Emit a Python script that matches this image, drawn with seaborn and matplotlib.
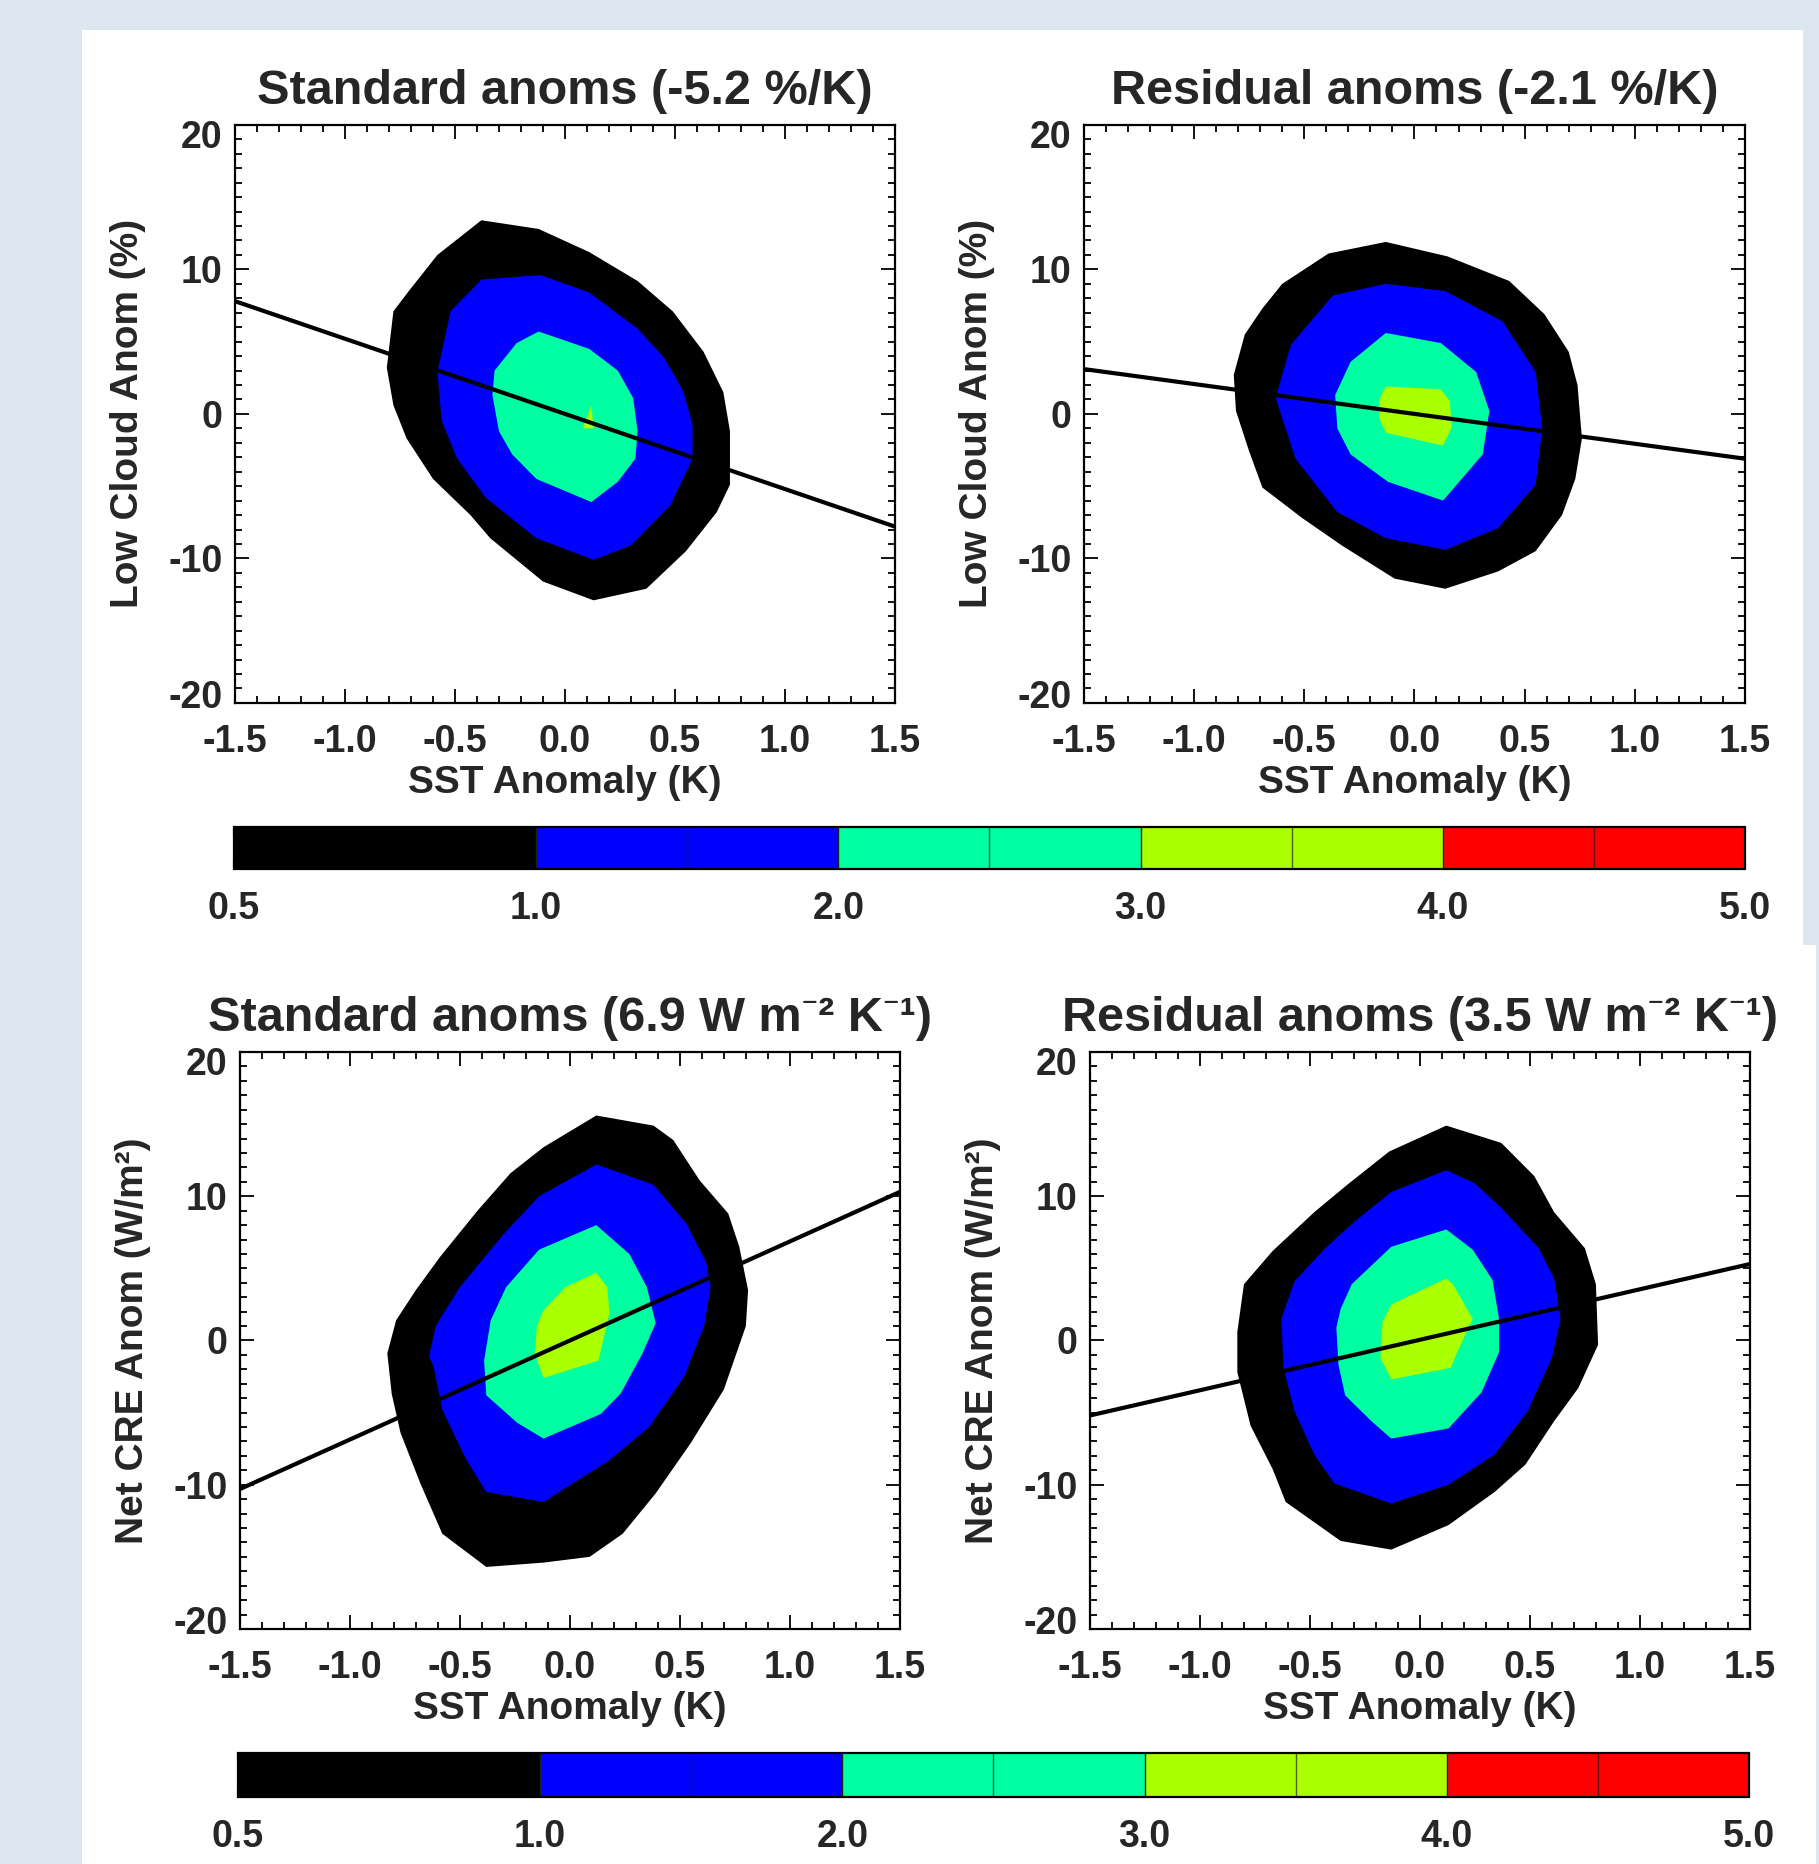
import matplotlib
matplotlib.use("Agg")
import matplotlib.pyplot as plt
import seaborn as sns
from matplotlib.colors import ListedColormap, BoundaryNorm
from matplotlib.cm import ScalarMappable
from matplotlib.patches import Rectangle
from matplotlib.ticker import MultipleLocator, FormatStrFormatter
from matplotlib.transforms import ScaledTranslation

# ---------------- data ----------------
levels = [0.5, 1.0, 2.0, 3.0, 4.0, 5.0]
level_colors = ["#000000", "#0000ff", "#00ffa0", "#aaff00", "#ff0000"]
cbar_tick_labels = ["0.5", "1.0", "2.0", "3.0", "4.0", "5.0"]
cbar_minor_ticks = [1.5, 2.5, 3.5, 4.5]

titles = ["Standard anoms (-5.2 %/K)",
          "Residual anoms (-2.1 %/K)",
          "Standard anoms (6.9 W m\u207b\u00b2 K\u207b\u00b9)",
          "Residual anoms (3.5 W m\u207b\u00b2 K\u207b\u00b9)"]
ylabels = ["Low Cloud Anom (%)", "Low Cloud Anom (%)",
           "Net CRE Anom (W/m\u00b2)", "Net CRE Anom (W/m\u00b2)"]
xlabel = "SST Anomaly (K)"

# regression lines (end points)
line_x = [-1.5, 1.5]
cld_std_line_y = [7.8, -7.8]
cld_res_line_y = [3.1, -3.1]
cre_std_line_y = [-10.3, 10.3]
cre_res_line_y = [-5.2, 5.3]

# contour outlines (SST anomaly K, anomaly) for levels 0.5, 1, 2, 3
cld_std_c05_x = [-0.38, -0.12, 0.11, 0.33, 0.49, 0.63, 0.72, 0.75, 0.75, 0.69, 0.55, 0.37, 0.13, -0.10, -0.34, -0.43, -0.60, -0.72, -0.78, -0.81, -0.78, -0.71, -0.58]
cld_std_c05_y = [13.4, 12.8, 11.2, 9.2, 7.1, 4.3, 1.5, -1.2, -4.9, -6.8, -9.5, -12.1, -12.9, -11.6, -8.6, -7.0, -4.5, -1.7, 0.6, 3.2, 7.1, 8.5, 11.0]
cld_std_c10_x = [-0.38, -0.11, 0.11, 0.33, 0.45, 0.54, 0.58, 0.58, 0.48, 0.30, 0.13, -0.13, -0.36, -0.49, -0.56, -0.58, -0.52]
cld_std_c10_y = [9.3, 9.6, 8.4, 5.9, 3.9, 1.5, -0.8, -3.1, -6.3, -9.1, -10.1, -8.6, -5.8, -3.1, -0.5, 2.9, 7.1]
cld_std_c20_x = [-0.12, 0.11, 0.24, 0.31, 0.33, 0.32, 0.24, 0.12, -0.13, -0.24, -0.30, -0.33, -0.32, -0.22]
cld_std_c20_y = [5.7, 4.5, 3.0, 1.1, -1.2, -3.1, -4.7, -6.1, -4.5, -2.8, -1.2, 1.3, 3.0, 4.9]
cld_std_c30_x = [0.12, 0.13, 0.08]
cld_std_c30_y = [0.6, -1.0, -1.0]

cld_res_c05_x = [-0.13, 0.15, 0.43, 0.59, 0.70, 0.74, 0.76, 0.73, 0.67, 0.55, 0.38, 0.14, -0.09, -0.33, -0.51, -0.69, -0.75, -0.81, -0.82, -0.77, -0.69, -0.60, -0.39]
cld_res_c05_y = [11.9, 10.9, 9.2, 6.9, 4.3, 2.0, -1.7, -4.5, -7.0, -9.5, -10.9, -12.1, -11.4, -9.1, -7.2, -5.1, -2.6, 0.2, 2.7, 5.5, 7.3, 9.0, 11.1]
cld_res_c10_x = [-0.13, 0.14, 0.40, 0.55, 0.58, 0.55, 0.38, 0.14, -0.13, -0.35, -0.54, -0.63, -0.56, -0.37]
cld_res_c10_y = [9.0, 8.5, 6.4, 2.9, -1.0, -4.9, -7.9, -9.4, -8.6, -6.8, -3.1, 1.1, 4.8, 8.2]
cld_res_c20_x = [-0.13, 0.12, 0.28, 0.34, 0.31, 0.13, -0.12, -0.29, -0.35, -0.36, -0.29]
cld_res_c20_y = [5.6, 4.9, 2.9, 0.2, -2.8, -6.0, -4.7, -2.8, -1.0, 1.3, 3.6]
cld_res_c30_x = [-0.13, 0.12, 0.16, 0.17, 0.13, -0.13, -0.16, -0.16]
cld_res_c30_y = [1.9, 1.7, 0.9, -0.9, -2.2, -1.3, -0.3, 1.0]

cre_std_c05_x = [0.12, 0.38, 0.47, 0.59, 0.72, 0.77, 0.81, 0.80, 0.70, 0.55, 0.39, 0.24, 0.09, -0.12, -0.38, -0.58, -0.68, -0.77, -0.81, -0.83, -0.79, -0.70, -0.59, -0.42, -0.27, -0.12]
cre_std_c05_y = [15.6, 14.9, 13.9, 11.1, 8.8, 6.5, 3.5, 1.0, -3.4, -7.1, -10.6, -13.4, -15.0, -15.4, -15.7, -13.4, -9.9, -6.4, -3.7, -0.9, 1.4, 3.5, 5.8, 9.0, 11.6, 13.4]
cre_std_c10_x = [0.12, 0.38, 0.53, 0.62, 0.64, 0.61, 0.52, 0.36, 0.18, -0.12, -0.38, -0.47, -0.58, -0.62, -0.64, -0.61, -0.50, -0.30, -0.14]
cre_std_c10_y = [12.2, 10.8, 8.1, 5.4, 3.7, 1.0, -2.5, -6.0, -8.3, -11.2, -10.5, -8.3, -4.8, -1.8, -1.1, 1.0, 3.7, 7.4, 10.0]
cre_std_c20_x = [0.12, 0.27, 0.35, 0.39, 0.33, 0.23, 0.14, -0.12, -0.24, -0.38, -0.39, -0.36, -0.29, -0.14]
cre_std_c20_y = [8.0, 6.0, 3.7, 1.2, -0.9, -3.7, -5.1, -6.8, -5.7, -3.8, -1.4, 1.4, 3.7, 6.3]
cre_std_c30_x = [0.12, 0.17, 0.18, 0.13, -0.12, -0.16, -0.15, -0.12, -0.02]
cre_std_c30_y = [4.7, 3.7, 1.9, -1.4, -2.6, -0.9, 1.0, 2.1, 3.7]

cre_res_c05_x = [0.12, 0.37, 0.52, 0.61, 0.75, 0.80, 0.81, 0.72, 0.61, 0.48, 0.34, 0.13, -0.13, -0.36, -0.61, -0.67, -0.77, -0.83, -0.83, -0.80, -0.67, -0.48, -0.33, -0.14]
cre_res_c05_y = [14.9, 13.7, 11.4, 8.9, 6.4, 3.9, -0.3, -3.3, -5.6, -8.6, -10.5, -12.8, -14.5, -13.9, -11.2, -8.9, -5.9, -2.2, 0.6, 3.9, 6.2, 8.9, 10.8, 13.1]
cre_res_c10_x = [0.12, 0.25, 0.37, 0.54, 0.61, 0.64, 0.60, 0.49, 0.34, 0.13, -0.13, -0.39, -0.48, -0.57, -0.62, -0.63, -0.57, -0.43, -0.30, -0.13]
cre_res_c10_y = [11.8, 10.9, 9.2, 6.4, 4.3, 1.5, -1.2, -4.9, -7.9, -10.0, -11.3, -9.9, -7.9, -4.9, -1.9, 1.5, 4.1, 6.4, 8.2, 10.3]
cre_res_c20_x = [0.12, 0.24, 0.33, 0.36, 0.36, 0.28, 0.13, -0.13, -0.22, -0.34, -0.37, -0.38, -0.36, -0.31, -0.13]
cre_res_c20_y = [7.7, 6.3, 4.2, 1.5, -0.8, -3.6, -6.1, -6.8, -5.6, -3.8, -1.7, 0.9, 2.2, 3.9, 6.5]
cre_res_c30_x = [0.12, 0.15, 0.24, 0.17, 0.14, -0.13, -0.18, -0.17, -0.13]
cre_res_c30_y = [4.3, 3.9, 1.5, -0.8, -1.9, -2.7, -1.2, 1.3, 2.5]

panels = [
    ([(cld_std_c05_x, cld_std_c05_y), (cld_std_c10_x, cld_std_c10_y),
      (cld_std_c20_x, cld_std_c20_y), (cld_std_c30_x, cld_std_c30_y)], cld_std_line_y),
    ([(cld_res_c05_x, cld_res_c05_y), (cld_res_c10_x, cld_res_c10_y),
      (cld_res_c20_x, cld_res_c20_y), (cld_res_c30_x, cld_res_c30_y)], cld_res_line_y),
    ([(cre_std_c05_x, cre_std_c05_y), (cre_std_c10_x, cre_std_c10_y),
      (cre_std_c20_x, cre_std_c20_y), (cre_std_c30_x, cre_std_c30_y)], cre_std_line_y),
    ([(cre_res_c05_x, cre_res_c05_y), (cre_res_c10_x, cre_res_c10_y),
      (cre_res_c20_x, cre_res_c20_y), (cre_res_c30_x, cre_res_c30_y)], cre_res_line_y),
]

# ---------------- style ----------------
sns.set_style("ticks")
plt.rcParams["font.family"] = ["Liberation Sans", "Noto Sans", "DejaVu Sans"]
plt.rcParams["font.weight"] = "bold"
plt.rcParams["axes.unicode_minus"] = False

BG = "#dce6f1"
fig = plt.figure(figsize=(18.19, 18.64), dpi=100)
fig.patch.set_facecolor(BG)
fig.add_artist(Rectangle((0.0451, 0.4930), 0.9461, 0.4909, transform=fig.transFigure,
                         facecolor="white", edgecolor="none", zorder=-5))
fig.add_artist(Rectangle((0.0451, 0.0), 0.9533, 0.4930, transform=fig.transFigure,
                         facecolor="white", edgecolor="none", zorder=-5))

axes_pos = [[0.1292, 0.6229, 0.3628, 0.3101],
            [0.5959, 0.6229, 0.3634, 0.3101],
            [0.1319, 0.1261, 0.3628, 0.3095],
            [0.5992, 0.1261, 0.3628, 0.3095]]

axes = []
for i, ((contours, line_y), pos) in enumerate(zip(panels, axes_pos)):
    ax = fig.add_axes(pos)
    axes.append(ax)
    ax.set_facecolor("white")
    for (cx, cy), col in zip(contours, level_colors):
        ax.fill(cx, cy, color=col, linewidth=0, zorder=2)
    sns.lineplot(x=line_x, y=line_y, ax=ax, color="black", linewidth=3.0, zorder=4)
    ax.set_xlim(-1.5, 1.5)
    ax.set_ylim(-20, 20)
    ax.xaxis.set_major_locator(MultipleLocator(0.5))
    ax.xaxis.set_minor_locator(MultipleLocator(0.1))
    ax.yaxis.set_major_locator(MultipleLocator(10))
    ax.yaxis.set_minor_locator(MultipleLocator(1))
    ax.xaxis.set_major_formatter(FormatStrFormatter("%.1f"))
    ax.yaxis.set_major_formatter(FormatStrFormatter("%d"))
    ax.tick_params(which="both", direction="in", top=True, right=True, width=1.3, color="black")
    ax.tick_params(which="major", length=10)
    ax.tick_params(which="minor", length=5)
    ax.tick_params(axis="x", pad=15, labelsize=27)
    ax.tick_params(axis="y", pad=9, labelsize=27)
    for sp in ax.spines.values():
        sp.set_linewidth(1.6)
        sp.set_color("black")
    ax.set_title(titles[i], fontsize=35, fontweight="bold", pad=15)
    ax.set_xlabel(xlabel, fontsize=28, fontweight="bold", labelpad=4)
    ax.set_ylabel(ylabels[i], fontsize=28, fontweight="bold", labelpad=16)

cmap = ListedColormap(level_colors)
norm = BoundaryNorm(levels, cmap.N)
for cpos in ([0.1286, 0.5338, 0.8307, 0.0225], [0.1308, 0.0359, 0.8307, 0.0236]):
    cax = fig.add_axes(cpos)
    cb = fig.colorbar(ScalarMappable(norm=norm, cmap=cmap), cax=cax,
                      orientation="horizontal", spacing="uniform", ticks=levels,
                      drawedges=True)
    cb.set_ticks(levels, labels=cbar_tick_labels)
    cb.dividers.set_color("#202020")
    cb.dividers.set_linewidth(1.0)
    for m in cbar_minor_ticks:
        cax.axvline(m, color="#202020", linewidth=1.0, alpha=0.7)
    cax.tick_params(which="both", direction="in", top=True, bottom=True,
                    length=6, width=1.5, color="black")
    cax.tick_params(labelsize=27, pad=16)
    cb.outline.set_linewidth(1.6)
    cb.outline.set_edgecolor("black")

# nudge the end y tick labels inward, like the original
fig.canvas.draw()
shift = 9 / 100.0
for ax in axes:
    locs = ax.yaxis.get_majorticklocs()
    ticks = ax.yaxis.get_major_ticks(len(locs))
    for t, loc in zip(ticks, locs):
        if abs(loc - 20) < 1e-6:
            t.label1.set_transform(t.label1.get_transform() +
                                   ScaledTranslation(0, -shift, fig.dpi_scale_trans))
        elif abs(loc + 20) < 1e-6:
            t.label1.set_transform(t.label1.get_transform() +
                                   ScaledTranslation(0, shift, fig.dpi_scale_trans))

fig.savefig("out.png", dpi=100, facecolor=BG)
